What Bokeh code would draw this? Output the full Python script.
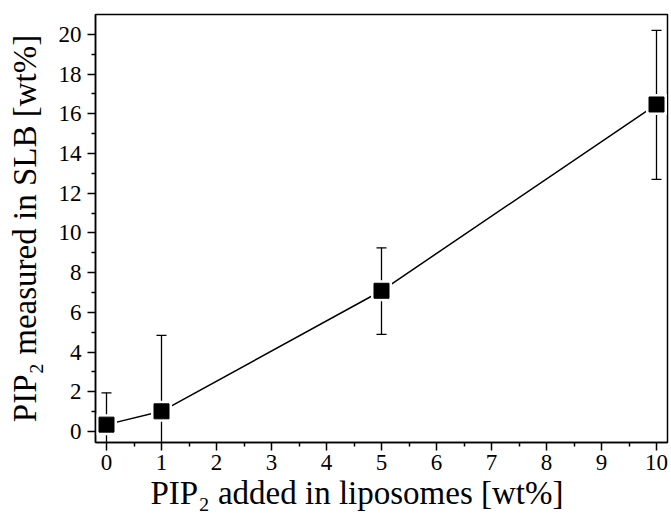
from bokeh.plotting import figure
from bokeh.models import ColumnDataSource, Whisker, TeeHead, Range1d, FixedTicker, Title
from bokeh.embed import file_html
from bokeh.resources import INLINE

x_added = [0, 1, 5, 10]
y_measured = [0.35, 1.02, 7.09, 16.47]
y_upper = [1.95, 4.84, 9.25, 20.2]
y_lower = [-1.25, -2.8, 4.89, 12.7]

x_ticks = [0, 1, 2, 3, 4, 5, 6, 7, 8, 9, 10]
y_ticks = [0, 2, 4, 6, 8, 10, 12, 14, 16, 18, 20]

x_title = "PIP\u2082 added in liposomes [wt%]"
y_title = "PIP\u2082 measured in SLB [wt%]"

src = ColumnDataSource(dict(x=x_added, y=y_measured, upper=y_upper, lower=y_lower))

FONT = "Liberation Serif"

p = figure(width=671, height=522, output_backend="svg", toolbar_location=None,
           x_range=Range1d(-0.2, 10.2), y_range=Range1d(-0.55, 21.0),
           min_border_left=95, min_border_right=4, min_border_top=14, min_border_bottom=80)
p.background_fill_color = "white"
p.border_fill_color = "white"
p.grid.visible = False
p.outline_line_color = "black"
p.outline_line_width = 1.5
p.outline_line_alpha = 1.0

p.line("x", "y", source=src, color="black", line_width=1.5)
p.scatter("x", "y", source=src, marker="square", size=21, fill_color="white", line_color=None)

wh = Whisker(base="x", upper="upper", lower="lower", source=src, dimension="height",
             line_color="black", line_width=1.3,
             upper_head=TeeHead(size=10, line_color="black", line_width=1.3),
             lower_head=TeeHead(size=10, line_color="black", line_width=1.3))
p.add_layout(wh)

p.scatter("x", "y", source=src, marker="square", size=15, fill_color="black", line_color="black")

for ax in (p.xaxis[0], p.yaxis[0]):
    ax.axis_line_width = 1.5
    ax.major_tick_line_width = 1.5
    ax.minor_tick_line_width = 1.5
    ax.major_tick_out = 8
    ax.major_tick_in = 0
    ax.minor_tick_out = 4
    ax.minor_tick_in = 0
    ax.major_label_text_font = FONT
    ax.major_label_text_font_size = "23px"
    ax.major_label_text_color = "black"
    ax.axis_label_text_font = FONT
    ax.axis_label_text_font_size = "33px"
    ax.axis_label_text_font_style = "normal"
    ax.axis_label_text_color = "black"

p.xaxis[0].ticker = FixedTicker(ticks=x_ticks, minor_ticks=[v + 0.5 for v in x_ticks[:-1]])
p.yaxis[0].ticker = FixedTicker(ticks=y_ticks, minor_ticks=[v + 1 for v in y_ticks[:-1]])
p.yaxis[0].axis_label = y_title
p.xaxis[0].major_label_standoff = 4
p.yaxis[0].major_label_standoff = 6
p.yaxis[0].axis_label_standoff = 13

xt = Title(text=x_title, align="left", offset=55, standoff=0,
           text_font=FONT, text_font_size="33px", text_font_style="normal",
           text_color="black")
p.add_layout(xt, "below")

open("out.html", "w").write(file_html(p, INLINE))
